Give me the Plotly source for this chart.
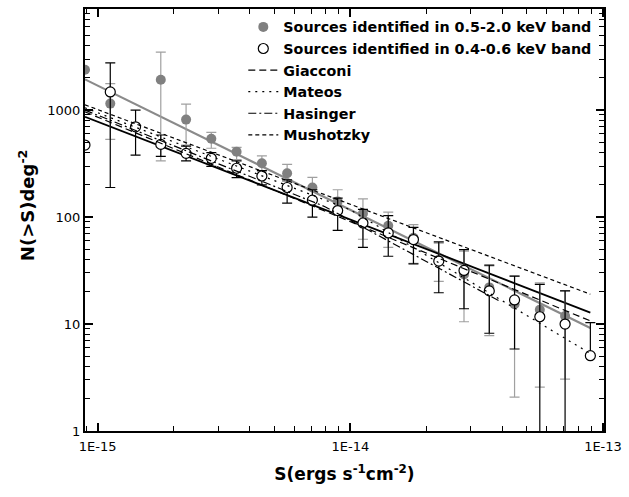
import plotly.graph_objects as go

# Flux positions (erg s^-1 cm^-2)
S = [8.91e-16, 1.122e-15, 1.413e-15, 1.778e-15, 2.239e-15, 2.818e-15, 3.548e-15,
     4.467e-15, 5.623e-15, 7.079e-15, 8.913e-15, 1.122e-14, 1.413e-14, 1.778e-14,
     2.239e-14, 2.818e-14, 3.548e-14, 4.467e-14, 5.623e-14, 7.079e-14, 8.913e-14]

# Sources identified in 0.5-2.0 keV band (value, upper, lower)
broad_N = [2380, 1150, None, 1922, 815, 540, 408, 318, 257, 189, 140, 108, 83, 64, 40,
           29, 22, 15.3, 13.6, 11.9, None]
broad_hi = [2380, 1766, None, 3480, 1135, 618, 448, 373, 311, 235, 180, 148, 111, 85, 57,
            48, 35, 28, 24.3, 20.5, None]
broad_lo = [2380, 532, None, 335, 471, 440, 345, 270, 215, 150, 110, 62, 52, 37, 25,
            10.5, 7.8, 2.07, 2.57, 3.05, None]

# Sources identified in 0.4-0.6 keV band (value, upper, lower)
soft_N = [471, 1477, 698, 478, 394, 354, 286, 242, 189, 144, 115, 88, 71, 61.6, 38.7,
          31.7, 20.4, 16.8, 11.7, 10.0, 5.06]
soft_hi = [471, 2766, 1000, 585, 460, 400, 335, 272, 223, 180, 150, 118, 103, 80, 58.5,
           49.7, 35.5, 28.1, 23.5, 20.4, 10.3]
soft_lo = [471, 189, 380, 370, 335, 298, 234, 200, 135, 100, 75, 52, 43, 36.5, 19.6,
           13.9, 8.2, 5.84, 0.01, 0.01, 5.06]

# Model / fit curves
line_S = [8.91e-16, 8.91e-14]
giacconi_N = [962, 10.7]
mushotzky_N = [1120, 19]
fit_soft_N = [865, 12.8]
fit_broad_N = [1937, 9.2]
mateos_S = [8.91e-16, 1.0e-14, 8.91e-14]
mateos_N = [1050, 117, 5.3]
hasinger_S = [8.91e-16, 7.94e-15, 3.95e-14]
hasinger_N = [1000, 125, 16.1]

x_ticks = [1e-15, 1e-14, 1e-13]
x_labels = ["1E-15", "1E-14", "1E-13"]
y_ticks = [1, 10, 100, 1000]
y_labels = ["1", "10", "100", "1000"]


def errs(vals, hi, lo):
    plus, minus = [], []
    for v, h, l in zip(vals, hi, lo):
        if v is None:
            plus.append(None); minus.append(None)
        else:
            plus.append(h - v); minus.append(v - l)
    return plus, minus


bp, bm = errs(broad_N, broad_hi, broad_lo)
sp, sm = errs(soft_N, soft_hi, soft_lo)

GRAY = "#808080"
GRAY_ERR = "#a0a0a0"

fig = go.Figure()

fig.add_trace(go.Scatter(
    x=line_S, y=fit_broad_N, mode="lines", showlegend=False,
    line=dict(color="#8a8a8a", width=2.2)))
fig.add_trace(go.Scatter(
    x=line_S, y=fit_soft_N, mode="lines", showlegend=False,
    line=dict(color="black", width=1.8)))

fig.add_trace(go.Scatter(
    x=S, y=broad_N, mode="markers", name="Sources identified in 0.5-2.0 keV band",
    marker=dict(color=GRAY, size=10, line=dict(width=0)),
    error_y=dict(type="data", symmetric=False, array=bp, arrayminus=bm,
                 color=GRAY_ERR, thickness=1.2, width=5)))
fig.add_trace(go.Scatter(
    x=S, y=soft_N, mode="markers", name="Sources identified in 0.4-0.6 keV band",
    marker=dict(color="white", size=10, line=dict(color="black", width=1.2)),
    error_y=dict(type="data", symmetric=False, array=sp, arrayminus=sm,
                 color="black", thickness=1.2, width=5)))

fig.add_trace(go.Scatter(
    x=line_S, y=giacconi_N, mode="lines", name="Giacconi",
    line=dict(color="black", width=1.2, dash="7px,4px")))
fig.add_trace(go.Scatter(
    x=mateos_S, y=mateos_N, mode="lines", name="Mateos",
    line=dict(color="black", width=1.2, dash="2px,5px")))
fig.add_trace(go.Scatter(
    x=hasinger_S, y=hasinger_N, mode="lines", name="Hasinger",
    line=dict(color="black", width=1.2, dash="8px,3px,2px,3px")))
fig.add_trace(go.Scatter(
    x=line_S, y=mushotzky_N, mode="lines", name="Mushotzky",
    line=dict(color="black", width=1.2, dash="4px,3px")))

x_minor = [d * 10.0 ** e for e in (-16, -15, -14) for d in range(2, 10)]
y_minor = [d * 10.0 ** e for e in (0, 1, 2, 3) for d in range(2, 10)]

axis_common = dict(
    type="log", showgrid=False, zeroline=False, showline=True, linecolor="black",
    linewidth=2, mirror="allticks", ticks="inside", ticklen=8, tickwidth=1.5,
    tickcolor="black", tickmode="array",
    tickfont=dict(family="DejaVu Sans", size=13, color="black"),
)

fig.update_xaxes(
    **axis_common, range=[-15.05, -12.996], tickvals=x_ticks, ticktext=x_labels,
    ticklabelstandoff=2,
    minor=dict(ticks="inside", ticklen=5, tickwidth=1.2, tickcolor="black",
               tickmode="array", tickvals=x_minor, showgrid=False),
    title=dict(text="S(ergs s<sup>-1</sup>cm<sup>-2</sup>)", standoff=16,
               font=dict(family="DejaVu Sans", size=17, color="black", weight="bold")))
fig.update_yaxes(
    **axis_common, range=[0, 3.945], tickvals=y_ticks, ticktext=y_labels,
    minor=dict(ticks="inside", ticklen=5, tickwidth=1.2, tickcolor="black",
               tickmode="array", tickvals=y_minor, showgrid=False))

fig.add_annotation(
    text="N(>S)deg<sup>-2</sup>", textangle=-90, showarrow=False,
    xref="paper", yref="paper", x=-0.113, y=0.536, xanchor="center", yanchor="middle",
    font=dict(family="DejaVu Sans", size=18, color="black", weight="bold"))

fig.update_layout(
    width=629, height=497,
    margin=dict(l=85, r=22, t=7, b=66),
    paper_bgcolor="white", plot_bgcolor="white",
    showlegend=True,
    legend=dict(x=0.305, y=0.995, xanchor="left", yanchor="top",
                bgcolor="rgba(0,0,0,0)", borderwidth=0,
                font=dict(family="DejaVu Sans", size=14.3, color="black", weight="bold"),
                tracegroupgap=0, itemwidth=30),
)

fig.write_html("out.html", config={"displayModeBar": False},
               post_script="document.body.style.margin='0';")
